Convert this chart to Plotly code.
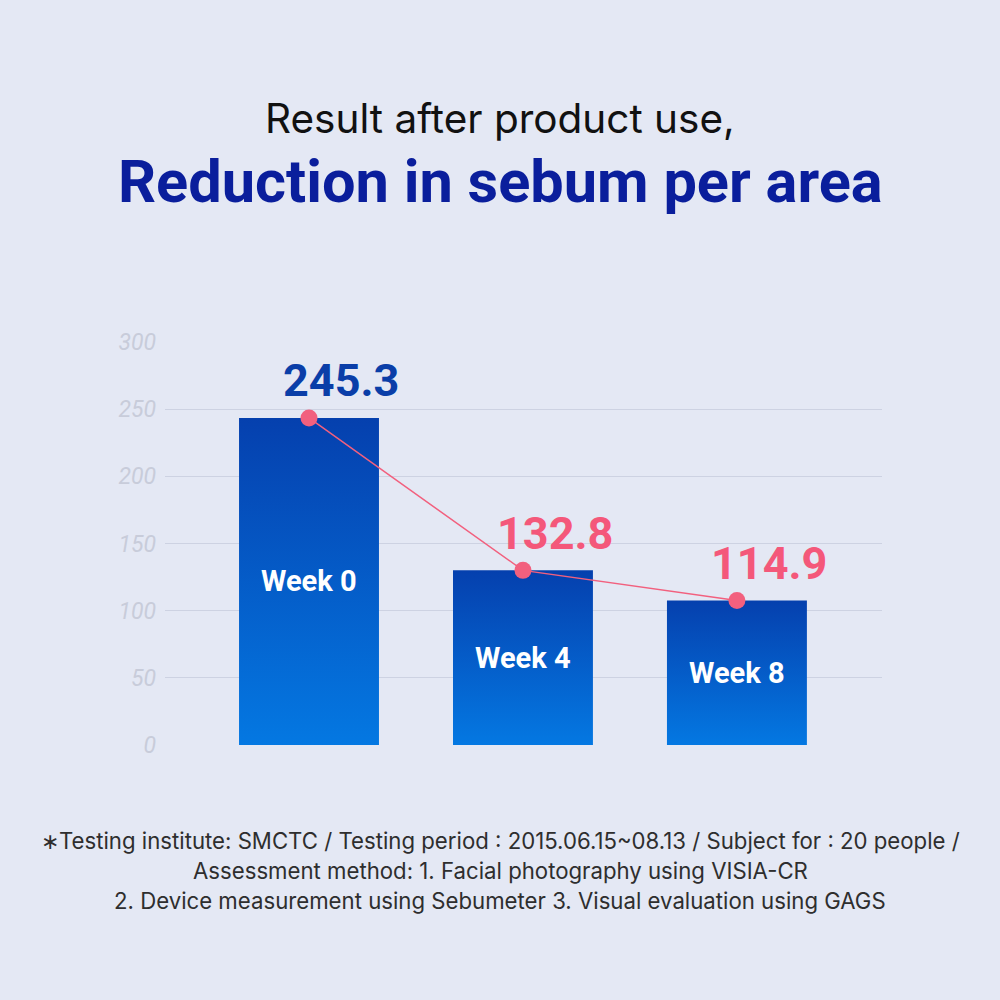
import plotly.graph_objects as go

# ---- data ----
categories = ["Week 0", "Week 4", "Week 8"]
values = [243.5, 130.0, 107.5]          # bar / point heights as drawn
value_labels = ["245.3", "132.8", "114.9"]
y_ticks = [0, 50, 100, 150, 200, 250, 300]

BG = "#E4E8F4"
PINK = "#F2607E"
PINK_TXT = "#F4587A"
BLUE_TXT = "#0A3EA8"
BAR_W = 0.654
CX = (500 - 165) / 717.0  # paper x of the page centre

fig = go.Figure()

# gradient bars drawn as filled shapes on the data axes
for i, (cat, v) in enumerate(zip(categories, values)):
    x0, x1 = i - BAR_W / 2, i + BAR_W / 2
    fig.add_trace(go.Scatter(
        x=[x0, x1, x1, x0, x0], y=[0, 0, v, v, 0],
        mode="lines", line=dict(width=0), fill="toself",
        fillgradient=dict(type="vertical",
                          colorscale=[[0, "#0478E2"], [1, "#0540AE"]]),
        hoverinfo="skip", showlegend=False))
    fig.add_annotation(x=i, y=v / 2, text="<b>%s</b>" % cat, showarrow=False,
                       font=dict(family="Roboto", size=29, color="white"))

# line with markers
fig.add_trace(go.Scatter(
    x=list(range(len(categories))), y=values, mode="lines+markers",
    line=dict(color=PINK, width=1.5),
    marker=dict(color=PINK, size=17), showlegend=False))

for i, (v, lab) in enumerate(zip(values, value_labels)):
    fig.add_annotation(x=i, y=v, text="<b>%s</b>" % lab, showarrow=False,
                       xshift=32, yshift=37,
                       font=dict(family="Roboto", size=45,
                                 color=BLUE_TXT if i == 0 else PINK_TXT))

def py(p):
    return (745 - p) / 403.0

fig.add_annotation(xref="paper", yref="paper", x=CX, y=py(118),
                   text="Result after product use,", showarrow=False,
                   yanchor="middle",
                   font=dict(family="Inter", size=40.5, color="#111111"))
fig.add_annotation(xref="paper", yref="paper", x=CX, y=py(182),
                   text="<b>Reduction in sebum per area</b>", showarrow=False,
                   yanchor="middle",
                   font=dict(family="Roboto", size=59.5, color="#0A1E9C"))

foot = ["∗Testing institute: SMCTC / Testing period : 2015.06.15~08.13 / Subject for : 20 people /",
        "Assessment method: 1. Facial photography using VISIA-CR",
        "2. Device measurement using Sebumeter 3. Visual evaluation using GAGS"]
for k, line in enumerate(foot):
    fig.add_annotation(xref="paper", yref="paper", x=CX, y=py(840 + 30 * k),
                       text=line, showarrow=False, yanchor="middle",
                       font=dict(family="Inter", size=22.2, color="#2E2E2E"))

fig.update_layout(
    width=1000, height=1000,
    paper_bgcolor=BG, plot_bgcolor=BG,
    margin=dict(l=165, r=118, t=342, b=255),
    xaxis=dict(range=[-0.673, 2.678], showgrid=False, zeroline=False,
               showticklabels=False, fixedrange=True),
    yaxis=dict(range=[0, 300], tickvals=y_ticks, showgrid=True,
               gridcolor="#CDD2E2", gridwidth=1, zeroline=False,
               ticks="", ticklabelstandoff=8, fixedrange=True,
               tickfont=dict(family="Roboto", size=23, color="#C8CCDA",
                             style="italic")),
)

fig.write_html("out.html", config={"displayModeBar": False},
               post_script="document.body.style.margin='0';"
                           "document.body.style.background='#E4E8F4';")
